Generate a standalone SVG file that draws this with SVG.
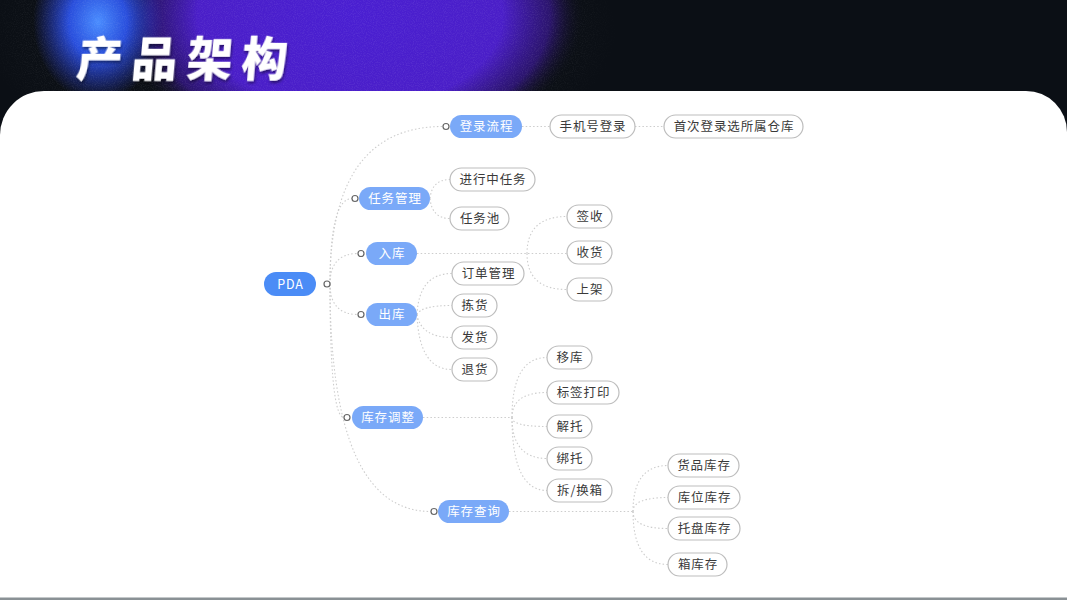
<svg xmlns="http://www.w3.org/2000/svg" width="1067" height="600" viewBox="0 0 1067 600">
<defs>
<radialGradient id="purple" cx="350" cy="15" r="235" gradientUnits="userSpaceOnUse" gradientTransform="translate(350 15) scale(1 0.62) translate(-350 -15)">
<stop offset="0" stop-color="#4a1fd2"/>
<stop offset="0.65" stop-color="#4a1ec8"/>
<stop offset="0.85" stop-color="#36168c" stop-opacity="0.75"/>
<stop offset="1" stop-color="#0b0f15" stop-opacity="0"/>
</radialGradient>
<radialGradient id="blue" cx="98" cy="22" r="72" gradientUnits="userSpaceOnUse" gradientTransform="translate(98 22) scale(0.9 1.1) translate(-98 -22)">
<stop offset="0" stop-color="#4a8dff"/>
<stop offset="0.45" stop-color="#2c55f2" stop-opacity="0.9"/>
<stop offset="1" stop-color="#2a3be0" stop-opacity="0"/>
</radialGradient>
<radialGradient id="nm" cx="300" cy="30" r="320" gradientUnits="userSpaceOnUse" gradientTransform="translate(300 30) scale(1 0.5) translate(-300 -30)">
<stop offset="0" stop-color="#fff"/>
<stop offset="0.8" stop-color="#fff"/>
<stop offset="1" stop-color="#000"/>
</radialGradient>
<mask id="noisemask" maskUnits="userSpaceOnUse" x="0" y="0" width="1067" height="100">
<rect x="0" y="0" width="1067" height="100" fill="url(#nm)"/>
</mask>
<filter id="noise" x="0" y="0" width="100%" height="100%">
<feTurbulence type="fractalNoise" baseFrequency="0.9" numOctaves="2" seed="3" result="n"/>
<feColorMatrix in="n" type="matrix" values="0 0 0 0 1  0 0 0 0 1  0 0 0 0 1  0 0 0 0.6 -0.25" result="a"/>
<feComposite in="a" in2="SourceGraphic" operator="in"/>
</filter>
<filter id="tshadow" x="-10%" y="-10%" width="120%" height="130%">
<feDropShadow dx="1" dy="2" stdDeviation="1.5" flood-color="#000" flood-opacity="0.5"/>
</filter>
</defs>
<style>
.l1 rect{fill:#7aa9f8}
.l1 text,.root text{fill:#fff}
.root rect{fill:#4b8cf6}
.l2 rect{fill:#fff;stroke:#bdbdbd;stroke-width:1.2}
.l2 text{fill:#3a3a3a}
text{font-family:"Noto Sans CJK SC","Noto Sans",sans-serif;font-size:12.5px;letter-spacing:0.9px;text-anchor:middle}
.conn path{fill:none;stroke:#cdcdcd;stroke-width:1.1;stroke-dasharray:1.5 2.2}
.dot{fill:#fff;stroke:#666;stroke-width:1.2}
</style>
<!-- header -->
<rect x="0" y="0" width="1067" height="600" fill="#0b0f15"/>
<ellipse cx="350" cy="15" rx="240" ry="150" fill="url(#purple)"/>
<ellipse cx="98" cy="22" rx="66" ry="80" fill="url(#blue)"/>
<rect x="0" y="0" width="1067" height="100" fill="#fff" filter="url(#noise)" opacity="0.3" mask="url(#noisemask)"/>
<text x="76" y="76" transform="skewX(-5) translate(6 0)" style="font-family:'Noto Sans CJK SC',sans-serif;font-size:46px;font-weight:900;letter-spacing:9px;text-anchor:start;fill:#fff" filter="url(#tshadow)">产品架构</text>
<!-- panel -->
<path d="M0,135 A44,44 0 0 1 44,91 L1026,91 A41,41 0 0 1 1067,132 L1067,598 L0,598 Z" fill="#fff"/>
<rect x="0" y="597.5" width="1067" height="2.5" fill="#8a9195"/>
<!-- connectors -->
<g id="connectors" class="conn">
<path d="M330,284 Q330,126.5 443,126.5"/>
<path d="M330,284 Q330,198.5 352,198.5"/>
<path d="M330,284 Q330,253.5 358,253.5"/>
<path d="M330,284 Q330,314.5 358,314.5"/>
<path d="M330,284 Q330,417.5 344,417.5"/>
<path d="M330,284 Q330,511.5 431,511.5"/>
<path d="M522,126.5 L550,126.5"/>
<path d="M635,126.5 L664,126.5"/>
<path d="M430,198.5 Q432,179.5 450,179.5"/>
<path d="M430,198.5 Q432,218.5 450,218.5"/>
<path d="M417,253.5 L567,253.5"/>
<path d="M527,253.5 Q527,216.5 567,216.5"/>
<path d="M527,253.5 Q527,289.5 567,289.5"/>
<path d="M417,314.5 Q419,273.5 452,273.5"/>
<path d="M417,314.5 Q421,305.5 452,305.5"/>
<path d="M417,314.5 Q421,337.5 452,337.5"/>
<path d="M417,314.5 Q419,369.5 452,369.5"/>
<path d="M423,417.5 L512,417.5"/>
<path d="M512,417.5 Q512,357.5 547,357.5"/>
<path d="M512,417.5 Q512,392.5 547,392.5"/>
<path d="M512,417.5 Q512,426.5 547,426.5"/>
<path d="M512,417.5 Q512,458.5 547,458.5"/>
<path d="M512,417.5 Q512,490.5 547,490.5"/>
<path d="M509,511.5 L633,511.5"/>
<path d="M633,511.5 Q633,465.5 668,465.5"/>
<path d="M633,511.5 Q633,497.5 668,497.5"/>
<path d="M633,511.5 Q633,528.5 668,528.5"/>
<path d="M633,511.5 Q633,564.5 668,564.5"/>
</g>
<!-- nodes -->
<g id="n-pda" class="root"><rect x="264" y="272" width="52" height="24" rx="12"/><text x="290.5" y="288.5">PDA</text><circle class="dot" cx="327" cy="284" r="3"/></g>
<g id="n-login" class="l1"><rect x="450" y="115" width="72" height="23" rx="11.5"/><text x="486.5" y="131">登录流程</text><circle class="dot" cx="446" cy="126.5" r="3"/></g>
<g id="n-task" class="l1"><rect x="359" y="187" width="71" height="23" rx="11.5"/><text x="395" y="203">任务管理</text><circle class="dot" cx="355" cy="198.5" r="3"/></g>
<g id="n-in" class="l1"><rect x="366" y="242" width="51" height="23" rx="11.5"/><text x="392" y="258">入库</text><circle class="dot" cx="361" cy="253.5" r="3"/></g>
<g id="n-out" class="l1"><rect x="366" y="303" width="51" height="23" rx="11.5"/><text x="392" y="319">出库</text><circle class="dot" cx="361" cy="314.5" r="3"/></g>
<g id="n-adjust" class="l1"><rect x="352" y="406" width="71" height="23" rx="11.5"/><text x="388" y="422">库存调整</text><circle class="dot" cx="347" cy="417.5" r="3"/></g>
<g id="n-query" class="l1"><rect x="438" y="500" width="71" height="23" rx="11.5"/><text x="474" y="516">库存查询</text><circle class="dot" cx="434" cy="511.5" r="3"/></g>
<g id="n-phone" class="l2"><rect x="550" y="115" width="85" height="23" rx="11.5"/><text x="593" y="131">手机号登录</text></g>
<g id="n-first" class="l2"><rect x="664" y="115" width="139" height="23" rx="11.5"/><text x="734" y="131">首次登录选所属仓库</text></g>
<g id="n-doing" class="l2"><rect x="450" y="168" width="85" height="23" rx="11.5"/><text x="493" y="184">进行中任务</text></g>
<g id="n-pool" class="l2"><rect x="450" y="207" width="59" height="23" rx="11.5"/><text x="480" y="223">任务池</text></g>
<g id="n-sign" class="l2"><rect x="567" y="205" width="45" height="23" rx="11.5"/><text x="590" y="221">签收</text></g>
<g id="n-recv" class="l2"><rect x="567" y="241" width="45" height="23" rx="11.5"/><text x="590" y="257">收货</text></g>
<g id="n-shelf" class="l2"><rect x="567" y="278" width="45" height="23" rx="11.5"/><text x="590" y="294">上架</text></g>
<g id="n-order" class="l2"><rect x="452" y="262" width="72" height="23" rx="11.5"/><text x="488.5" y="278">订单管理</text></g>
<g id="n-pick" class="l2"><rect x="452" y="294" width="45" height="23" rx="11.5"/><text x="475" y="310">拣货</text></g>
<g id="n-ship" class="l2"><rect x="452" y="326" width="45" height="23" rx="11.5"/><text x="475" y="342">发货</text></g>
<g id="n-return" class="l2"><rect x="452" y="358" width="45" height="23" rx="11.5"/><text x="475" y="374">退货</text></g>
<g id="n-move" class="l2"><rect x="547" y="346" width="45" height="23" rx="11.5"/><text x="570" y="362">移库</text></g>
<g id="n-label" class="l2"><rect x="547" y="381" width="72" height="23" rx="11.5"/><text x="583.5" y="397">标签打印</text></g>
<g id="n-untie" class="l2"><rect x="547" y="415" width="45" height="23" rx="11.5"/><text x="570" y="431">解托</text></g>
<g id="n-tie" class="l2"><rect x="547" y="447" width="45" height="23" rx="11.5"/><text x="570" y="463">绑托</text></g>
<g id="n-box" class="l2"><rect x="547" y="479" width="65" height="23" rx="11.5"/><text x="580" y="495">拆/换箱</text></g>
<g id="n-goods" class="l2"><rect x="668" y="454" width="71" height="23" rx="11.5"/><text x="704" y="470">货品库存</text></g>
<g id="n-loc" class="l2"><rect x="668" y="486" width="72" height="23" rx="11.5"/><text x="704.5" y="502">库位库存</text></g>
<g id="n-tray" class="l2"><rect x="668" y="517" width="72" height="23" rx="11.5"/><text x="704.5" y="533">托盘库存</text></g>
<g id="n-case" class="l2"><rect x="668" y="553" width="59" height="23" rx="11.5"/><text x="698" y="569">箱库存</text></g>
</svg>
